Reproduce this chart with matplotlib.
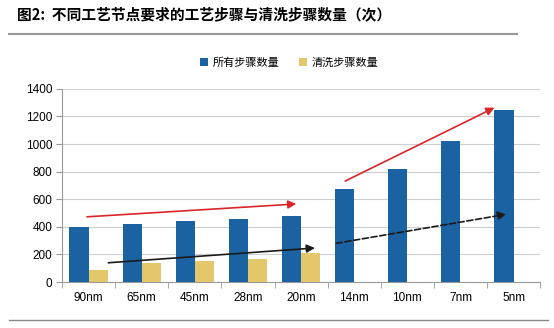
import numpy as np
import matplotlib
matplotlib.use('Agg')
import matplotlib.pyplot as plt
from matplotlib.lines import Line2D

plt.rcParams['font.family'] = ['Liberation Sans', 'Noto Sans CJK SC', 'DejaVu Sans']

# process nodes and step counts
nodes = ['90nm', '65nm', '45nm', '28nm', '20nm', '14nm', '10nm', '7nm', '5nm']
all_steps = [400, 420, 445, 460, 480, 675, 820, 1020, 1250]
clean_steps = [90, 140, 150, 170, 210, np.nan, np.nan, np.nan, np.nan]

# trend arrows (x in category units, y in step counts)
red_arrows = [((-0.03, 473), (3.91, 566)), ((4.83, 732), (7.64, 1264))]
black_arrows = [((0.37, 140), (4.26, 247), '-'), ((4.66, 281), (7.86, 491), '--')]

blue = '#1b62a3'
gold = '#e4c76a'

fig = plt.figure(figsize=(5.54, 3.28), dpi=100)
ax = fig.add_axes([0.112, 0.140, 0.863, 0.589])

x = np.arange(len(nodes))
w = 0.36
ax.bar(x - w / 2, all_steps, w, color=blue, label='所有步骤数量', zorder=3)
ax.bar(x + w / 2, clean_steps, w, color=gold, label='清洗步骤数量', zorder=3)

ax.set_xlim(-0.5, len(nodes) - 0.5)
ax.set_ylim(0, 1400)
ax.set_yticks(range(0, 1401, 200))
ax.set_xticks(x)
ax.set_xticklabels(nodes)
ax.set_xticks(np.arange(-0.5, len(nodes), 1), minor=True)
ax.tick_params(axis='x', which='major', length=0, pad=7, labelsize=8.5)
ax.tick_params(axis='x', which='minor', length=4, color='#999999')
ax.tick_params(axis='y', length=4, color='#999999', labelsize=8.5, pad=3)
ax.grid(axis='y', color='#cfcfcf', linewidth=0.8, zorder=0)
for s in ['top', 'right']:
    ax.spines[s].set_visible(False)
for s in ['left', 'bottom']:
    ax.spines[s].set_color('#999999')

for (x0, y0), (x1, y1) in red_arrows:
    ax.annotate('', xy=(x1, y1), xytext=(x0, y0),
                arrowprops=dict(arrowstyle='-|>', color='#d9262a', lw=1.2,
                                mutation_scale=12, shrinkA=0, shrinkB=0), zorder=5)
for (x0, y0), (x1, y1), ls in black_arrows:
    ax.annotate('', xy=(x1, y1), xytext=(x0, y0),
                arrowprops=dict(arrowstyle='-|>', color='#1a1a1a', lw=1.2, linestyle=ls,
                                mutation_scale=12, shrinkA=0, shrinkB=0), zorder=5)

ax.legend(loc='center', bbox_to_anchor=(0.475, 1.134), ncol=2, frameon=False,
          prop={'family': 'Noto Sans CJK SC', 'size': 8}, handlelength=0.7,
          handleheight=0.7, columnspacing=1.8, handletextpad=0.4)

fig.text(0.031, 0.957, '图2:  不同工艺节点要求的工艺步骤与清洗步骤数量（次）',
         fontsize=10.6, fontweight='bold', family=['Noto Sans CJK SC'], va='center')
fig.add_artist(Line2D([0.016, 0.934], [0.896, 0.896], color='#999999', lw=1.5))
fig.add_artist(Line2D([0.016, 0.99], [0.025, 0.025], color='#888888', lw=1.0))

fig.savefig('out.png', dpi=100)
